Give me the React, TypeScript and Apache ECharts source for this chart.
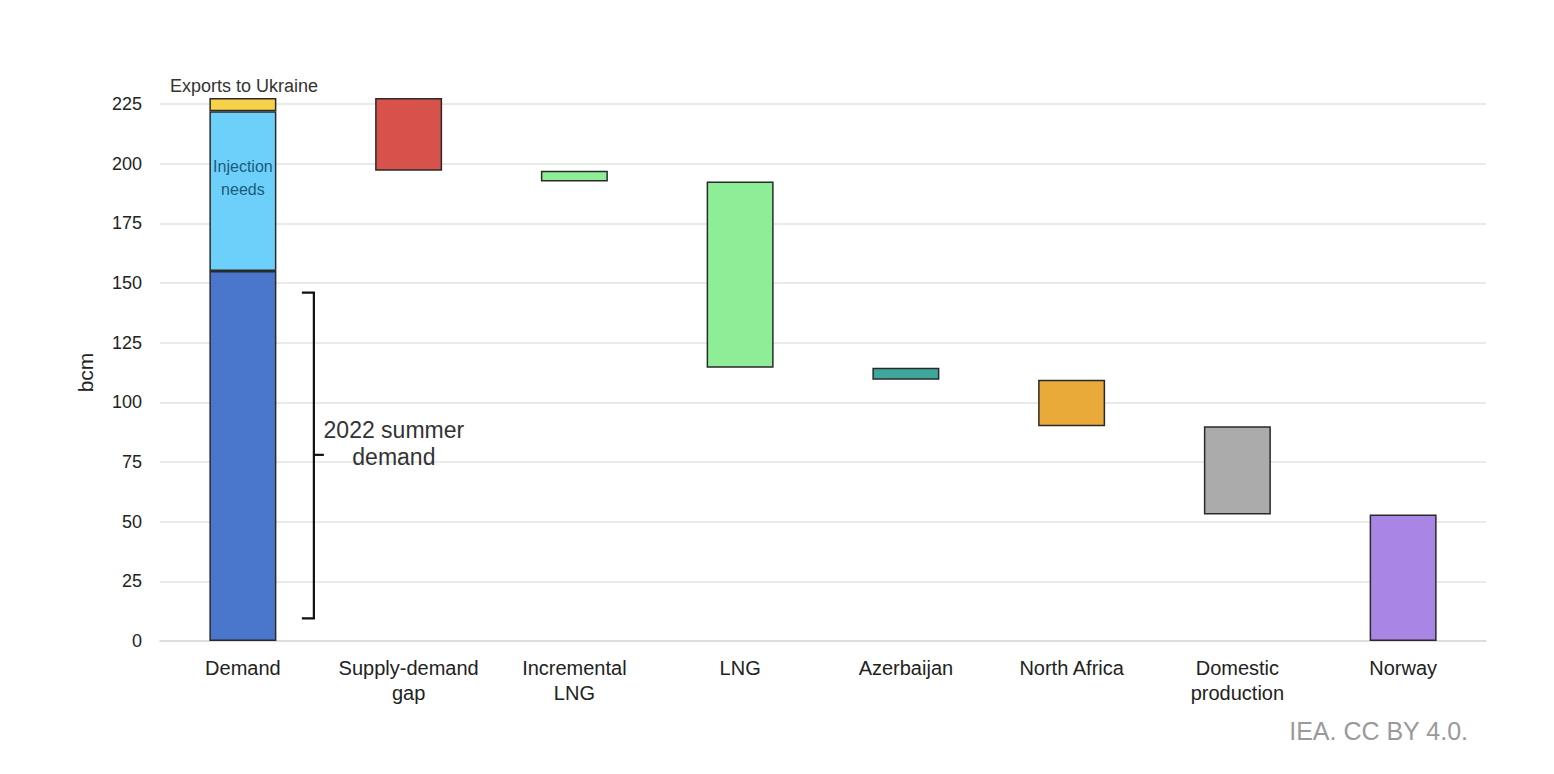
import React, { useEffect, useRef } from "react";
import * as echarts from "echarts";

const categories = [
  "Demand",
  "Supply-demand\ngap",
  "Incremental\nLNG",
  "LNG",
  "Azerbaijan",
  "North Africa",
  "Domestic\nproduction",
  "Norway",
];
// Demand bar segments (bcm)
const summerDemand = 155;
const injectionNeeds = 67;
const exportsUkraine = 5.5;
// Waterfall steps (bcm), from "Supply-demand gap" to "Norway"
const steps = [30.5, 4.5, 78, 5, 19.5, 37, 53];
const stepColors = ["#d6524a", "#8eee98", "#8eee98", "#3fa79c", "#e9aa3a", "#ababab", "#a985e6"];
const yTicks = { min: 0, max: 225, interval: 25 };

const FONT = "Liberation Sans, Arial, sans-serif";

export default function App() {
  const ref = useRef<HTMLDivElement>(null);
  useEffect(() => {
    if (!ref.current) return;
    const chart = echarts.init(ref.current, null, { renderer: "svg" });
    const total = summerDemand + injectionNeeds + exportsUkraine;
    // bases for floating bars
    const bases: number[] = [0];
    let level = total;
    steps.forEach((s) => {
      level -= s;
      bases.push(level);
    });
    const border = { borderColor: "#2a2a2a", borderWidth: 1.5 };
    const mainData = [
      { value: summerDemand, itemStyle: { color: "#4a77cc", ...border } },
      ...steps.map((s, i) => ({ value: s, itemStyle: { color: stepColors[i], ...border } })),
    ];
    const barWidth = 67;
    chart.setOption({
      animation: false,
      grid: { left: 160, right: 68, top: 104, bottom: 133 },
      xAxis: {
        type: "category",
        data: categories,
        axisTick: { show: false },
        axisLine: { lineStyle: { color: "#d9d9d9", width: 1.5 } },
        axisLabel: {
          color: "#222",
          fontSize: 20,
          fontFamily: FONT,
          lineHeight: 25,
          margin: 14,
          interval: 0,
          hideOverlap: false,
        },
      },
      yAxis: {
        type: "value",
        min: yTicks.min,
        max: yTicks.max,
        interval: yTicks.interval,
        name: "bcm",
        nameLocation: "middle",
        nameGap: 64,
        nameTextStyle: { color: "#222", fontSize: 21, fontFamily: FONT },
        axisLabel: { color: "#222", fontSize: 18, fontFamily: FONT, margin: 18 },
        splitLine: { lineStyle: { color: "#e3e3e3", width: 1.5 } },
      },
      series: [
        {
          type: "bar",
          stack: "w",
          barWidth,
          clip: false,
          silent: true,
          itemStyle: { color: "rgba(0,0,0,0)" },
          data: bases,
        },
        { type: "bar", stack: "w", barWidth, clip: false, data: mainData },
        {
          type: "bar",
          stack: "w",
          barWidth,
          clip: false,
          data: [{ value: injectionNeeds, itemStyle: { color: "#6cd0fa", ...border } }, ...steps.map(() => "-")],
        },
        {
          type: "bar",
          stack: "w",
          barWidth,
          clip: false,
          data: [{ value: exportsUkraine, itemStyle: { color: "#f6d24a", ...border } }, ...steps.map(() => "-")],
        },
      ],
    });

    const cx = chart.convertToPixel({ xAxisIndex: 0 }, 0) as number;
    const py = (v: number) => chart.convertToPixel({ yAxisIndex: 0 }, v) as number;
    const bx = cx + 71;
    const yTop = py(146),
      yBot = py(9.5),
      yMid = py(78);
    chart.setOption({
      graphic: [
        {
          type: "polyline",
          z: 100,
          shape: { points: [[bx - 12, yTop], [bx, yTop], [bx, yBot], [bx - 12, yBot]] },
          style: { stroke: "#111", lineWidth: 2.2, fill: null },
        },
        {
          type: "line",
          z: 100,
          shape: { x1: bx, y1: yMid, x2: bx + 10, y2: yMid },
          style: { stroke: "#111", lineWidth: 2.2 },
        },
        {
          type: "text",
          z: 100,
          x: bx + 80,
          y: py(82.7),
          style: {
            text: "2022 summer\ndemand",
            fill: "#333",
            font: `23px ${FONT}`,
            align: "center",
            verticalAlign: "middle",
            lineHeight: 27,
          },
        },
        {
          type: "text",
          z: 100,
          x: cx - 73,
          y: py(232.5),
          style: { text: "Exports to Ukraine", fill: "#333", font: `18px ${FONT}`, align: "left", verticalAlign: "middle" },
        },
        {
          type: "text",
          z: 100,
          x: cx,
          y: py(193.8),
          style: {
            text: "Injection\nneeds",
            fill: "#1d5a7c",
            font: `16px ${FONT}`,
            align: "center",
            verticalAlign: "middle",
            lineHeight: 23,
          },
        },
        {
          type: "text",
          z: 100,
          x: 1468,
          y: 731,
          style: { text: "IEA. CC BY 4.0.", fill: "#9a9a9a", font: `25px ${FONT}`, align: "right", verticalAlign: "middle" },
        },
      ],
    });
    return () => chart.dispose();
  }, []);
  return (
    <div
      ref={ref}
      style={{ position: "absolute", left: 0, top: 0, width: 1554, height: 774, background: "#fff" }}
    />
  );
}
